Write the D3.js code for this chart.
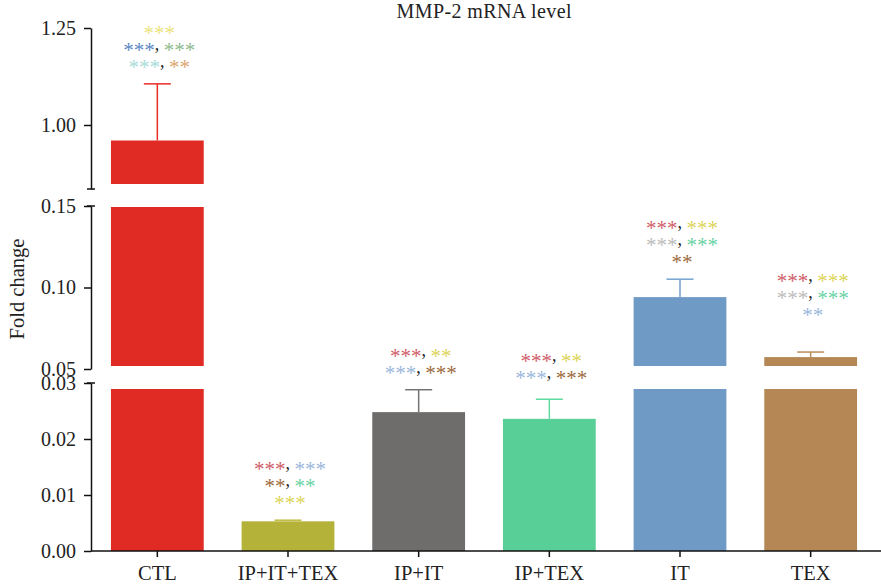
<!DOCTYPE html>
<html>
<head>
<meta charset="utf-8">
<script src="https://cdn.jsdelivr.net/npm/d3@7"></script>
<style>
  body { margin: 0; background: #fff; }
  text { font-family: "Liberation Serif", "Times New Roman", serif; }
</style>
</head>
<body>
<div id="chart"></div>
<script>
// data
const categories = ["CTL", "IP+IT+TEX", "IP+IT", "IP+TEX", "IT", "TEX"];
const means = [0.96, 0.0053, 0.0248, 0.0236, 0.0941, 0.0573];
const errors = [0.146, 0.0002, 0.0040, 0.0035, 0.0110, 0.0031];
const barColors = ["#e02a24", "#b5b23a", "#6e6d6b", "#57cf97", "#6f9ac6", "#b48754"];

const ticksTop = [1.00, 1.25];
const ticksMid = [0.05, 0.10, 0.15];
const ticksBottom = [0.00, 0.01, 0.02, 0.03];

// significance marks, one list of lines per group; each line is a list of [stars, colour]
const red = "#cf5d69", yellow = "#ddd55a", lblue = "#9cb8dc", brown = "#9c6b3d",
      green = "#6ad3a4", grey = "#bcbcbc";
const marks = [
  [[["***", "#ece37e"]], [["***", "#5c88c3"], ["***", "#8fba8c"]], [["***", "#a8dcd8"], ["**", "#dca66f"]]],
  [[["***", red], ["***", lblue]], [["**", brown], ["**", green]], [["***", yellow]]],
  [[["***", red], ["**", yellow]], [["***", lblue], ["***", brown]]],
  [[["***", red], ["**", yellow]], [["***", lblue], ["***", brown]]],
  [[["***", red], ["***", yellow]], [["***", grey], ["***", green]], [["**", brown]]],
  [[["***", red], ["***", yellow]], [["***", grey], ["***", green]], [["**", lblue]]]
];

const w = 881, h = 588;
const svg = d3.select("#chart").append("svg")
  .attr("width", w).attr("height", h);

const axisX = 91;
const fontSize = 20;
const x = d3.scaleBand()
  .domain(categories)
  .range([92, 876])
  .paddingInner(0.29)
  .paddingOuter(0.145);

// three pieces of the broken y axis
const segments = [
  { scale: d3.scaleLinear().domain([0.835, 1.25]).range([189, 28]), ticks: ticksTop, clipTop: 0, clipBottom: 5, capTop: false, capBottom: true },
  { scale: d3.scaleLinear().domain([0.05, 0.15]).range([369, 206]), ticks: ticksMid, clipTop: 1, clipBottom: 3, capTop: true, capBottom: false },
  { scale: d3.scaleLinear().domain([0, 0.03]).range([551, 383]), ticks: ticksBottom, clipTop: 6, clipBottom: 0, capTop: true, capBottom: false }
];

const fmt = d3.format(".2f");

segments.forEach(seg => {
  const g = svg.append("g").attr("transform", `translate(${axisX},0)`);
  const ax = d3.axisLeft(seg.scale).tickValues(seg.ticks).tickFormat(fmt).tickSize(7).tickSizeOuter(0).tickPadding(8);
  g.call(ax);
  g.select(".domain").attr("stroke", "#111").attr("stroke-width", 1.5);
  g.selectAll(".tick line").attr("stroke", "#111").attr("stroke-width", 1.5);
  g.selectAll(".tick text").attr("font-size", fontSize).attr("fill", "#222")
    .style("font-family", "'Liberation Serif', serif");
  const [r0, r1] = seg.scale.range();
  if (seg.capTop) g.append("line").attr("x1", -4).attr("x2", 4).attr("y1", r1).attr("y2", r1).attr("stroke", "#111").attr("stroke-width", 1.5);
  if (seg.capBottom) g.append("line").attr("x1", -4).attr("x2", 4).attr("y1", r0).attr("y2", r0).attr("stroke", "#111").attr("stroke-width", 1.5);
});

// bars, drawn piece by piece into each segment
const bars = svg.append("g");
segments.forEach(seg => {
  const [d0, d1] = seg.scale.domain();
  const [r0, r1] = seg.scale.range();
  categories.forEach((c, i) => {
    if (means[i] <= d0) return;
    const top = Math.max(seg.scale(Math.min(means[i], d1)), r1 + seg.clipTop);
    const bottom = r0 - seg.clipBottom;
    bars.append("rect")
      .attr("x", x(c))
      .attr("width", x.bandwidth())
      .attr("y", top)
      .attr("height", bottom - top)
      .attr("fill", barColors[i]);
  });
});

function segFor(v) {
  return segments.find(s => v >= s.scale.domain()[0] && v <= s.scale.domain()[1]);
}

// upper error bars
const errG = svg.append("g");
const capYs = [];
categories.forEach((c, i) => {
  const seg = segFor(means[i] + errors[i]) || segFor(means[i]);
  const cx = x(c) + x.bandwidth() / 2;
  const y0 = seg.scale(means[i]);
  const y1 = seg.scale(means[i] + errors[i]);
  capYs.push(y1);
  const col = d3.color(barColors[i]).brighter(0.15);
  errG.append("line").attr("x1", cx).attr("x2", cx).attr("y1", y0).attr("y2", y1)
    .attr("stroke", col).attr("stroke-width", 1.5);
  errG.append("line").attr("x1", cx - 13.5).attr("x2", cx + 13.5).attr("y1", y1).attr("y2", y1)
    .attr("stroke", col).attr("stroke-width", 1.5);
});

// star annotations above each bar
const starShift = 7;
const lineGap = 17;
const markLift = [20, 20, 20, 24, 20, 40];   // gap from error cap to lowest line
const annG = svg.append("g");
marks.forEach((lines, i) => {
  const cx = x(categories[i]) + x.bandwidth() / 2 + 2;
  const lastY = capYs[i] - markLift[i];
  lines.forEach((parts, j) => {
    const cy = lastY - (lines.length - 1 - j) * lineGap;
    const t = annG.append("text")
      .attr("x", cx)
      .attr("y", cy + 3)
      .attr("text-anchor", "middle")
      .attr("font-size", 21);
    parts.forEach((p, k) => {
      if (k > 0) {
        t.append("tspan").attr("dy", -starShift).attr("fill", "#222").attr("font-size", 18).text(", ");
      }
      t.append("tspan").attr("dy", starShift).attr("fill", p[1]).text(p[0]);
    });
  });
});

// x axis
const xg = svg.append("g").attr("transform", `translate(0,${segments[2].scale(0)})`);
xg.call(d3.axisBottom(x).tickSize(6).tickSizeOuter(0).tickPadding(8));
xg.select(".domain").attr("d", `M${axisX},0H${w}`).attr("stroke", "#111").attr("stroke-width", 1.5);
xg.selectAll(".tick line").attr("stroke", "#111").attr("stroke-width", 1.5);
xg.selectAll(".tick text").attr("font-size", fontSize + 0.5).attr("fill", "#222")
  .style("font-family", "'Liberation Serif', serif");

// title and y label
svg.append("text")
  .attr("x", (x.range()[0] + x.range()[1]) / 2)
  .attr("y", 18)
  .attr("text-anchor", "middle")
  .attr("font-size", fontSize)
  .attr("textLength", 175)
  .attr("lengthAdjust", "spacing")
  .attr("fill", "#222")
  .text("MMP-2 mRNA level");

svg.append("text")
  .attr("transform", "translate(24,289) rotate(-90)")
  .attr("text-anchor", "middle")
  .attr("font-size", fontSize + 0.5)
  .attr("fill", "#222")
  .text("Fold change");
</script>
</body>
</html>
